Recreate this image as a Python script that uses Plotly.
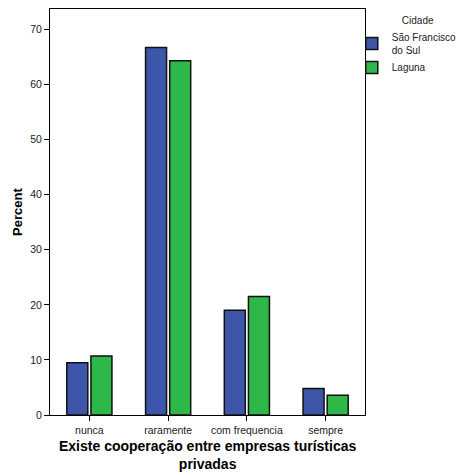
import plotly.graph_objects as go

categories = ["nunca", "raramente", "com frequencia", "sempre"]
sao_francisco = [9.5, 66.7, 19.0, 4.8]
laguna = [10.7, 64.3, 21.5, 3.6]
series_names = ["São Francisco<br>do Sul", "Laguna"]
y_ticks = [0, 10, 20, 30, 40, 50, 60, 70]

FONT = "Liberation Sans, Arial, sans-serif"

fig = go.Figure()
fig.add_trace(go.Bar(x=categories, y=sao_francisco, name=series_names[0],
                     marker=dict(color="#3d56a9", line=dict(color="#111111", width=1.5))))
fig.add_trace(go.Bar(x=categories, y=laguna, name=series_names[1],
                     marker=dict(color="#2fb84a", line=dict(color="#111111", width=1.5))))

# page body has an 8px default margin, so the figure is sized/offset to compensate
fig.update_layout(
    width=457, height=465,
    margin=dict(l=42, r=100, t=1, b=58, autoexpand=False),
    plot_bgcolor="white", paper_bgcolor="white",
    font=dict(family=FONT, size=10, color="#222222"),
    barmode="group", bargap=0.387, bargroupgap=0.13,
    showlegend=True,
    legend=dict(
        x=0.958, y=0.995, xanchor="left", yanchor="top",
        title=dict(text="&nbsp;" * 8 + "Cidade", side="top center", font=dict(size=10, family=FONT)),
        font=dict(size=10, family=FONT),
        itemwidth=30, tracegroupgap=2,
        bgcolor="rgba(0,0,0,0)",
    ),
    annotations=[
        dict(text="<b>Existe cooperação entre empresas turísticas<br>privadas</b>",
             xref="paper", yref="paper", x=0.5, y=-0.0993, xanchor="center", yanchor="middle",
             showarrow=False, font=dict(size=14, family=FONT, color="black")),
        dict(text="<b>Percent</b>", textangle=-90,
             xref="paper", yref="paper", x=-0.105, y=0.5, xanchor="center", yanchor="middle",
             showarrow=False, font=dict(size=13, family=FONT, color="black")),
    ],
)
fig.update_xaxes(
    range=[-0.5, 3.5], showline=True, linecolor="black", linewidth=1, mirror=True,
    ticks="outside", ticklen=5, tickcolor="black", showgrid=False, automargin=False,
    tickfont=dict(size=10.5, family=FONT),
)
fig.update_yaxes(
    range=[0, 73.7], showline=True, linecolor="black", linewidth=1, mirror=True,
    ticks="outside", ticklen=5, tickcolor="black", showgrid=False, zeroline=False,
    automargin=False,
    tickvals=y_ticks, tickfont=dict(size=10.5, family=FONT),
)

fig.write_html("out.html")
